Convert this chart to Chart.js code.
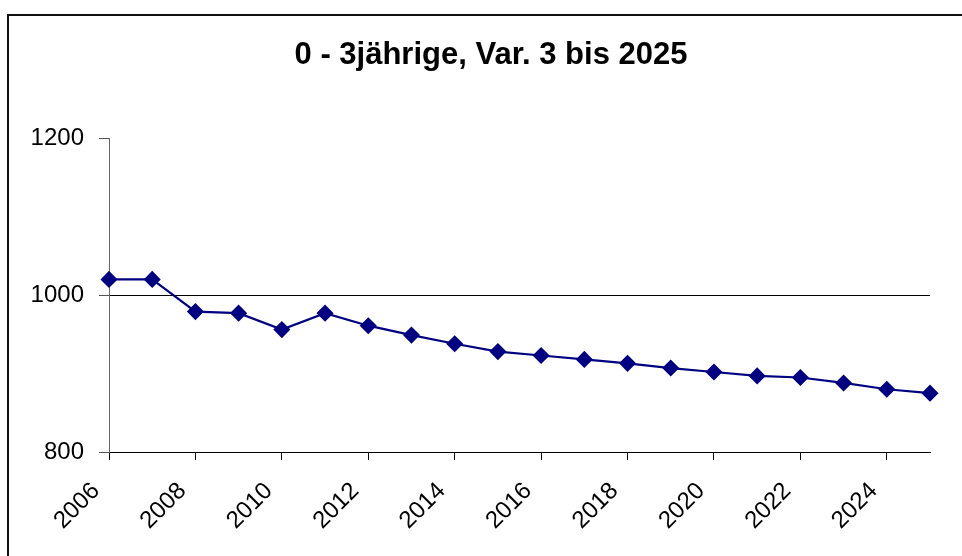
<!DOCTYPE html>
<html>
<head>
<meta charset="utf-8">
<script src="https://cdn.jsdelivr.net/npm/chart.js@4"></script>
<style>
  html, body { margin: 0; padding: 0; background: #fff; overflow: hidden; }
  #frame {
    position: absolute; left: 7px; top: 14px;
    width: 1000px; height: 600px;
    border: 2px solid #111;
  }
  #wrap { position: absolute; left: 0; top: 0; width: 962px; height: 556px; }
</style>
</head>
<body>
<div id="frame"></div>
<div id="wrap"><canvas id="chart" width="962" height="556"></canvas></div>
<script>
const years = ['2006', '2007', '2008', '2009', '2010', '2011', '2012', '2013', '2014', '2015',
               '2016', '2017', '2018', '2019', '2020', '2021', '2022', '2023', '2024', '2025'];
const kinder = [1020, 1020, 979, 977, 956, 977, 961, 949, 938, 928,
                923, 918, 913, 907, 902, 897, 895, 888, 880, 875];
const yTicks = [800, 1000, 1200];

const fontFam = "'Liberation Sans', Arial, sans-serif";

// y labels sit left of the layout padding; stop them from being clipped
const unclipY = {
  id: 'unclipY',
  afterLayout(chart) { chart.scales.y.left = 0; }
};

new Chart(document.getElementById('chart'), {
  type: 'line',
  data: {
    labels: years,
    datasets: [{
      data: kinder,
      borderColor: '#000080',
      backgroundColor: '#000080',
      borderWidth: 2.2,
      pointStyle: 'rectRot',
      pointRadius: 7,
      pointHoverRadius: 7,
      tension: 0
    }]
  },
  plugins: [unclipY],
  options: {
    responsive: false,
    animation: false,
    layout: { padding: { left: 52, right: 32, top: 0, bottom: 0 } },
    plugins: {
      legend: { display: false },
      tooltip: { enabled: false },
      title: {
        display: true,
        text: '0 - 3jährige, Var. 3 bis 2025',
        color: '#000',
        font: { family: fontFam, size: 31, weight: 'bold' },
        padding: { top: 37, bottom: 64 }
      }
    },
    scales: {
      x: {
        offset: false,
        border: { color: '#000', width: 1 },
        grid: {
          drawOnChartArea: false,
          tickLength: 8,
          tickColor: ctx => (ctx.index % 2 === 0 ? '#000' : 'rgba(0,0,0,0)')
        },
        ticks: {
          autoSkip: false,
          maxRotation: 45,
          minRotation: 45,
          padding: 17,
          labelOffset: -13,
          color: '#000',
          font: { family: fontFam, size: 24 },
          callback: function (val, i) { return i % 2 === 0 ? this.getLabelForValue(val) : ''; }
        },
        afterFit: s => {
          s.height = 104;
          s.paddingLeft = 0;
          s.paddingRight = 0;
        }
      },
      y: {
        min: 800,
        max: 1200,
        border: { color: '#666', width: 1 },
        grid: {
          color: ctx => (ctx.tick && ctx.tick.value === 1000 ? '#000' : 'rgba(0,0,0,0)'),
          tickColor: '#555',
          tickLength: 10
        },
        afterBuildTicks: s => { s.ticks = yTicks.map(v => ({ value: v })); },
        ticks: {
          padding: 15,
          color: '#000',
          font: { family: fontFam, size: 24 },
          callback: v => String(v)
        },
        afterFit: s => {
          s.width = 57;
          s.paddingTop = 0;
          s.paddingBottom = 0;
        }
      }
    }
  }
});
</script>
</body>
</html>
